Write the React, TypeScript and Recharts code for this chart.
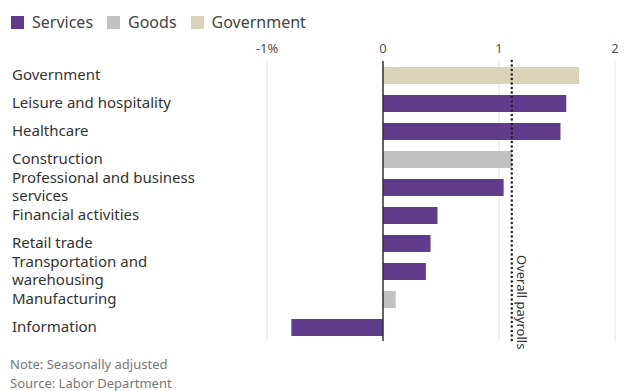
import { BarChart, Bar, XAxis, YAxis, CartesianGrid, ReferenceLine, Cell } from 'recharts'

const categories = [
  'Government',
  'Leisure and hospitality',
  'Healthcare',
  'Construction',
  'Professional and business services',
  'Financial activities',
  'Retail trade',
  'Transportation and warehousing',
  'Manufacturing',
  'Information',
]
const sectors = ['Government', 'Services', 'Services', 'Goods', 'Services', 'Services', 'Services', 'Services', 'Goods', 'Services']
const values = [1.69, 1.58, 1.53, 1.11, 1.04, 0.47, 0.41, 0.37, 0.11, -0.79]
const overallPayrolls = 1.11
const xTicks = [-1, 0, 1, 2]
const legendItems = ['Services', 'Goods', 'Government']
const notes = ['Note: Seasonally adjusted', 'Source: Labor Department']

// label wrapping as in the original
const labelLines: Record<string, string[]> = {
  'Professional and business services': ['Professional and business', 'services'],
  'Transportation and warehousing': ['Transportation and', 'warehousing'],
}

const colors: Record<string, string> = {
  Services: '#613b8c',
  Goods: '#c2c2c2',
  Government: '#d9d4b9',
}

const FONT = '"Noto Sans", "Open Sans", sans-serif'

const data = categories.map((name, i) => ({ name, value: values[i], sector: sectors[i] }))

function CategoryTick({ y, payload }: any) {
  const lines = labelLines[payload.value] ?? [payload.value]
  const lh = 18
  const start = y - ((lines.length - 1) * lh) / 2 + 5
  return (
    <text x={12} y={start} fill="#333" fontSize={15} fontFamily={FONT} textAnchor="start">
      {lines.map((l, i) => (
        <tspan key={i} x={12} y={start + i * lh}>{l}</tspan>
      ))}
    </text>
  )
}

function PayrollLabel({ viewBox }: any) {
  const x = viewBox.x + 9
  const y = viewBox.y + viewBox.height
  return (
    <text x={x} y={y} transform={`rotate(90 ${x} ${y})`} dx={-86} fill="#333" fontSize={13} fontFamily={FONT} textAnchor="start" dominantBaseline="middle">
      Overall payrolls
    </text>
  )
}

export default function App() {
  return (
    <div style={{ position: 'absolute', left: 0, top: 0, width: 640, height: 391, background: '#fff', overflow: 'hidden' }}>
      <div style={{ position: 'absolute', left: 11, top: 11, display: 'flex', gap: 14, fontFamily: FONT, fontSize: 16, color: '#444' }}>
        {legendItems.map((k) => (
          <div key={k} style={{ display: 'flex', alignItems: 'center', gap: 8 }}>
            <span style={{ width: 13, height: 13, background: colors[k], display: 'inline-block' }} />
            {k}
          </div>
        ))}
      </div>
      <BarChart
        width={640}
        height={391}
        data={data}
        layout="vertical"
        margin={{ top: 0, right: 25, bottom: 50, left: 0 }}
        barSize={17}
      >
        <CartesianGrid horizontal={false} stroke="#e4e4e4" />
        <XAxis
          type="number"
          orientation="top"
          domain={[-1, 2]}
          ticks={xTicks}
          height={61}
          axisLine={false}
          tickLine={false}
          tickSize={0}
          tickMargin={8}
          tickFormatter={(v: number) => (v === -1 ? '-1%' : String(v))}
          tick={{ fill: '#555', fontSize: 13, fontFamily: FONT }}
        />
        <YAxis type="category" dataKey="name" width={267} axisLine={false} tickLine={false} tick={<CategoryTick />} interval={0} />
        <Bar dataKey="value" isAnimationActive={false}>
          {data.map((d, i) => (
            <Cell key={`cell-${i}`} fill={colors[d.sector]} />
          ))}
        </Bar>
        <ReferenceLine x={0} stroke="#333" strokeWidth={1.5} />
        <ReferenceLine
          x={overallPayrolls}
          stroke="#222"
          strokeWidth={2.5}
          strokeDasharray="0 4.5"
          strokeLinecap="round"
          label={<PayrollLabel />}
        />
      </BarChart>
      <div style={{ position: 'absolute', left: 10, top: 355, fontFamily: FONT, fontSize: 13, color: '#777', lineHeight: '19px' }}>
        {notes.map((n) => (
          <div key={n}>{n}</div>
        ))}
      </div>
    </div>
  )
}
